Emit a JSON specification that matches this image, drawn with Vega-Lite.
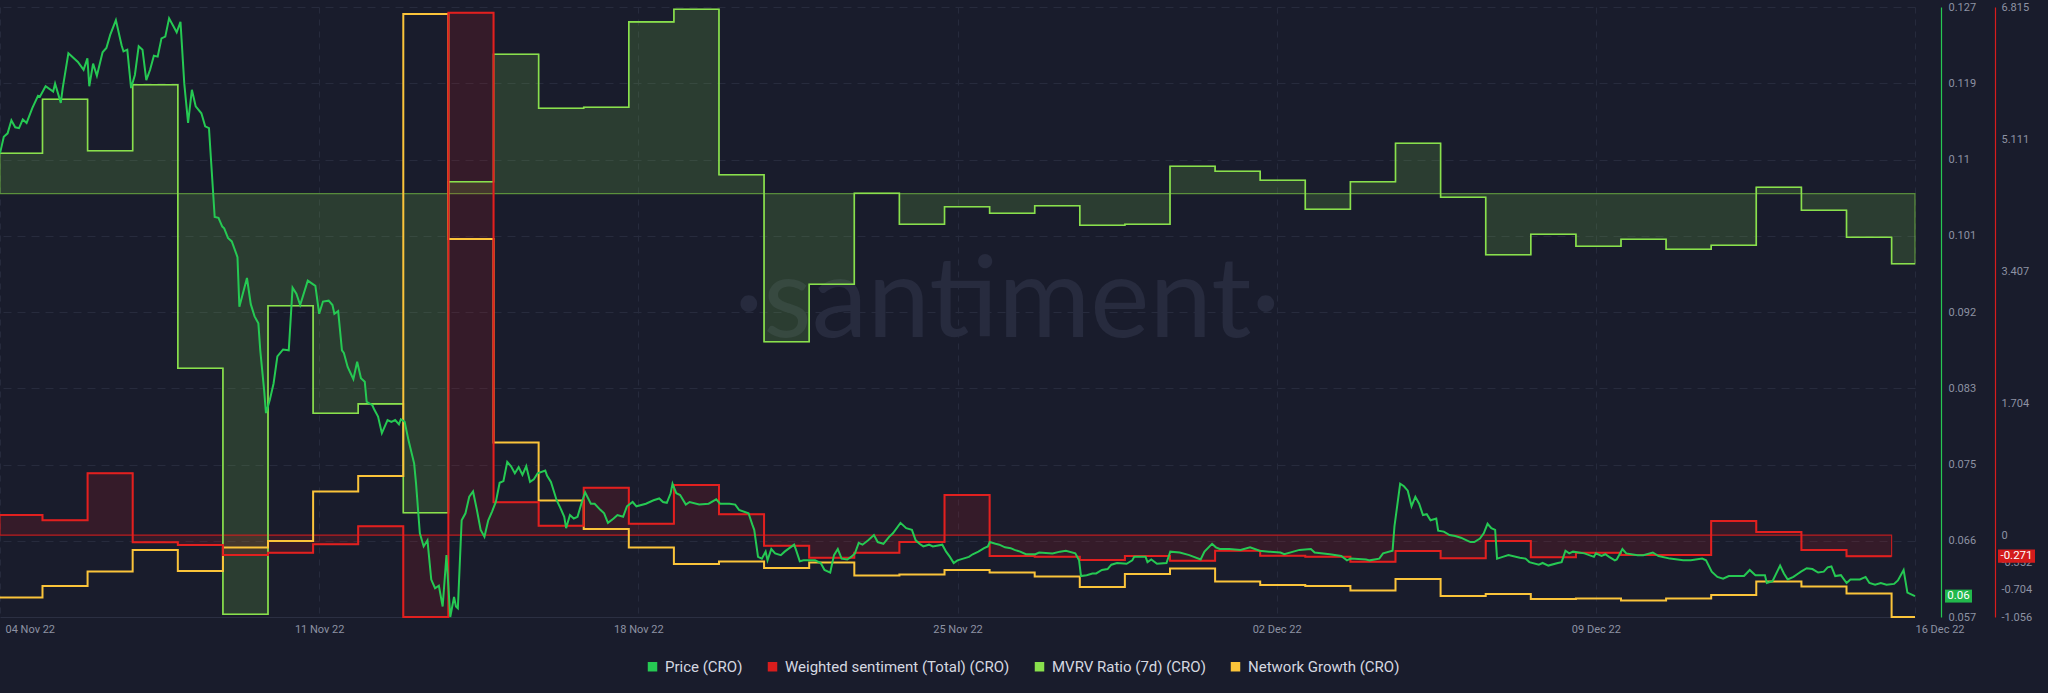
{
"$schema": "https://vega.github.io/schema/vega-lite/v6.json",
"width": 1915,
"height": 610,
"autosize": {"type": "none"},
"padding": {"left": 0, "top": 7, "right": 133, "bottom": 76},
"background": "#191c2c",
"config": {
  "view": {"stroke": null},
  "font": "Roboto",
  "locale": {"number": {"decimal": ".", "thousands": ",", "grouping": [3], "currency": ["$", ""], "minus": "-"}}
},
"datasets": {
  "price": [
{"t":"2022-11-04T00:00","price":0.1102},{"t":"2022-11-04T02:00","price":0.1121},{"t":"2022-11-04T04:00","price":0.1125},{"t":"2022-11-04T06:00","price":0.1140},{"t":"2022-11-04T08:00","price":0.1132},{"t":"2022-11-04T10:00","price":0.1131},{"t":"2022-11-04T12:00","price":0.1141},{"t":"2022-11-04T14:00","price":0.1137},{"t":"2022-11-04T17:00","price":0.1154},{"t":"2022-11-04T20:00","price":0.1168},{"t":"2022-11-04T21:00","price":0.1167},
{"t":"2022-11-05T00:00","price":0.1179},{"t":"2022-11-05T04:00","price":0.1173},{"t":"2022-11-05T05:00","price":0.1182},{"t":"2022-11-05T08:00","price":0.1160},{"t":"2022-11-05T09:00","price":0.1177},{"t":"2022-11-05T12:00","price":0.1217},{"t":"2022-11-05T17:00","price":0.1207},{"t":"2022-11-05T20:00","price":0.1198},{"t":"2022-11-05T22:00","price":0.1211},{"t":"2022-11-05T23:00","price":0.1179},
{"t":"2022-11-06T01:00","price":0.1205},{"t":"2022-11-06T03:00","price":0.1191},{"t":"2022-11-06T06:00","price":0.1218},{"t":"2022-11-06T08:00","price":0.1223},{"t":"2022-11-06T10:00","price":0.1238},{"t":"2022-11-06T13:00","price":0.1255},{"t":"2022-11-06T16:00","price":0.1226},{"t":"2022-11-06T17:00","price":0.1219},{"t":"2022-11-06T19:00","price":0.1221},{"t":"2022-11-06T21:00","price":0.1177},{"t":"2022-11-06T23:00","price":0.1192},
{"t":"2022-11-07T01:00","price":0.1225},{"t":"2022-11-07T03:00","price":0.1221},{"t":"2022-11-07T05:00","price":0.1186},{"t":"2022-11-07T07:00","price":0.1198},{"t":"2022-11-07T09:00","price":0.1214},{"t":"2022-11-07T11:00","price":0.1213},{"t":"2022-11-07T13:00","price":0.1234},{"t":"2022-11-07T15:00","price":0.1236},{"t":"2022-11-07T17:00","price":0.1257},{"t":"2022-11-07T19:00","price":0.1249},{"t":"2022-11-07T21:00","price":0.1241},{"t":"2022-11-07T23:00","price":0.1253},
{"t":"2022-11-08T01:00","price":0.1182},{"t":"2022-11-08T03:00","price":0.1137},{"t":"2022-11-08T05:00","price":0.1175},{"t":"2022-11-08T07:00","price":0.1156},{"t":"2022-11-08T10:00","price":0.1148},{"t":"2022-11-08T12:00","price":0.1133},{"t":"2022-11-08T14:00","price":0.1131},{"t":"2022-11-08T17:00","price":0.1029},{"t":"2022-11-08T19:00","price":0.1028},{"t":"2022-11-08T21:00","price":0.1018},{"t":"2022-11-08T22:00","price":0.1016},
{"t":"2022-11-09T00:00","price":0.1005},{"t":"2022-11-09T02:00","price":0.1001},{"t":"2022-11-09T05:00","price":0.0983},{"t":"2022-11-09T06:00","price":0.0926},{"t":"2022-11-09T10:00","price":0.0959},{"t":"2022-11-09T12:00","price":0.0929},{"t":"2022-11-09T14:00","price":0.0915},{"t":"2022-11-09T16:00","price":0.0907},{"t":"2022-11-09T17:00","price":0.0876},{"t":"2022-11-09T19:00","price":0.0831},{"t":"2022-11-09T20:00","price":0.0804},{"t":"2022-11-09T22:00","price":0.0819},
{"t":"2022-11-10T00:00","price":0.0838},{"t":"2022-11-10T02:00","price":0.0869},{"t":"2022-11-10T05:00","price":0.0877},{"t":"2022-11-10T08:00","price":0.0876},{"t":"2022-11-10T10:00","price":0.0948},{"t":"2022-11-10T12:00","price":0.0941},{"t":"2022-11-10T14:00","price":0.0928},{"t":"2022-11-10T18:00","price":0.0956},{"t":"2022-11-10T22:00","price":0.0950},
{"t":"2022-11-11T00:00","price":0.0918},{"t":"2022-11-11T02:00","price":0.0932},{"t":"2022-11-11T05:00","price":0.0933},{"t":"2022-11-11T07:00","price":0.0928},{"t":"2022-11-11T08:00","price":0.0918},{"t":"2022-11-11T10:00","price":0.0921},{"t":"2022-11-11T12:00","price":0.0876},{"t":"2022-11-11T13:00","price":0.0873},{"t":"2022-11-11T15:00","price":0.0857},{"t":"2022-11-11T18:00","price":0.0843},{"t":"2022-11-11T20:00","price":0.0863},{"t":"2022-11-11T22:00","price":0.0844},
{"t":"2022-11-12T00:00","price":0.0840},{"t":"2022-11-12T01:00","price":0.0817},{"t":"2022-11-12T04:00","price":0.0813},{"t":"2022-11-12T05:00","price":0.0808},{"t":"2022-11-12T07:00","price":0.0800},{"t":"2022-11-12T09:00","price":0.0781},{"t":"2022-11-12T12:00","price":0.0796},{"t":"2022-11-12T14:00","price":0.0794},{"t":"2022-11-12T16:00","price":0.0796},{"t":"2022-11-12T18:00","price":0.0791},{"t":"2022-11-12T19:00","price":0.0797},{"t":"2022-11-12T21:00","price":0.0794},{"t":"2022-11-12T23:00","price":0.0773},
{"t":"2022-11-13T02:00","price":0.0746},{"t":"2022-11-13T03:00","price":0.0723},{"t":"2022-11-13T05:00","price":0.0666},{"t":"2022-11-13T07:00","price":0.0651},{"t":"2022-11-13T09:00","price":0.0658},{"t":"2022-11-13T11:00","price":0.0613},{"t":"2022-11-13T13:00","price":0.0603},{"t":"2022-11-13T15:00","price":0.0606},{"t":"2022-11-13T17:00","price":0.0582},{"t":"2022-11-13T19:00","price":0.0641},{"t":"2022-11-13T21:00","price":0.0570},{"t":"2022-11-13T23:00","price":0.0593},
{"t":"2022-11-14T00:00","price":0.0582},{"t":"2022-11-14T01:00","price":0.0580},{"t":"2022-11-14T03:00","price":0.0681},{"t":"2022-11-14T05:00","price":0.0689},{"t":"2022-11-14T07:00","price":0.0708},{"t":"2022-11-14T09:00","price":0.0714},{"t":"2022-11-14T11:00","price":0.0693},{"t":"2022-11-14T13:00","price":0.0670},{"t":"2022-11-14T15:00","price":0.0662},{"t":"2022-11-14T17:00","price":0.0681},{"t":"2022-11-14T19:00","price":0.0691},{"t":"2022-11-14T21:00","price":0.0702},{"t":"2022-11-14T23:00","price":0.0724},
{"t":"2022-11-15T01:00","price":0.0726},{"t":"2022-11-15T03:00","price":0.0748},{"t":"2022-11-15T05:00","price":0.0743},{"t":"2022-11-15T07:00","price":0.0735},{"t":"2022-11-15T09:00","price":0.0742},{"t":"2022-11-15T11:00","price":0.0733},{"t":"2022-11-15T13:00","price":0.0743},{"t":"2022-11-15T15:00","price":0.0725},{"t":"2022-11-15T17:00","price":0.0728},{"t":"2022-11-15T19:00","price":0.0735},{"t":"2022-11-15T23:00","price":0.0738},
{"t":"2022-11-16T00:00","price":0.0732},{"t":"2022-11-16T02:00","price":0.0725},{"t":"2022-11-16T05:00","price":0.0704},{"t":"2022-11-16T07:00","price":0.0695},{"t":"2022-11-16T09:00","price":0.0685},{"t":"2022-11-16T10:00","price":0.0672},{"t":"2022-11-16T12:00","price":0.0687},{"t":"2022-11-16T14:00","price":0.0683},{"t":"2022-11-16T16:00","price":0.0685},{"t":"2022-11-16T18:00","price":0.0700},{"t":"2022-11-16T20:00","price":0.0713},{"t":"2022-11-16T23:00","price":0.0700},
{"t":"2022-11-17T01:00","price":0.0700},{"t":"2022-11-17T04:00","price":0.0693},{"t":"2022-11-17T06:00","price":0.0689},{"t":"2022-11-17T08:00","price":0.0678},{"t":"2022-11-17T11:00","price":0.0683},{"t":"2022-11-17T13:00","price":0.0687},{"t":"2022-11-17T16:00","price":0.0685},{"t":"2022-11-17T18:00","price":0.0697},{"t":"2022-11-17T21:00","price":0.0702},{"t":"2022-11-17T23:00","price":0.0697},
{"t":"2022-11-18T04:00","price":0.0700},{"t":"2022-11-18T08:00","price":0.0704},{"t":"2022-11-18T11:00","price":0.0706},{"t":"2022-11-18T13:00","price":0.0702},{"t":"2022-11-18T15:00","price":0.0701},{"t":"2022-11-18T17:00","price":0.0712},{"t":"2022-11-18T18:00","price":0.0723},{"t":"2022-11-18T20:00","price":0.0712},{"t":"2022-11-18T22:00","price":0.0710},
{"t":"2022-11-19T01:00","price":0.0699},{"t":"2022-11-19T03:00","price":0.0702},{"t":"2022-11-19T08:00","price":0.0699},{"t":"2022-11-19T13:00","price":0.0700},{"t":"2022-11-19T17:00","price":0.0705},{"t":"2022-11-19T19:00","price":0.0700},
{"t":"2022-11-20T00:00","price":0.0700},{"t":"2022-11-20T03:00","price":0.0699},{"t":"2022-11-20T05:00","price":0.0693},{"t":"2022-11-20T10:00","price":0.0689},{"t":"2022-11-20T12:00","price":0.0676},{"t":"2022-11-20T13:00","price":0.0670},{"t":"2022-11-20T15:00","price":0.0639},{"t":"2022-11-20T17:00","price":0.0637},{"t":"2022-11-20T19:00","price":0.0645},{"t":"2022-11-20T20:00","price":0.0635},{"t":"2022-11-20T22:00","price":0.0648},
{"t":"2022-11-21T00:00","price":0.0643},{"t":"2022-11-21T03:00","price":0.0641},{"t":"2022-11-21T05:00","price":0.0645},{"t":"2022-11-21T10:00","price":0.0653},{"t":"2022-11-21T11:00","price":0.0647},{"t":"2022-11-21T13:00","price":0.0634},{"t":"2022-11-21T15:00","price":0.0635},{"t":"2022-11-21T21:00","price":0.0635},
{"t":"2022-11-22T00:00","price":0.0632},{"t":"2022-11-22T02:00","price":0.0624},{"t":"2022-11-22T05:00","price":0.0621},{"t":"2022-11-22T07:00","price":0.0641},{"t":"2022-11-22T09:00","price":0.0648},{"t":"2022-11-22T11:00","price":0.0637},{"t":"2022-11-22T14:00","price":0.0636},{"t":"2022-11-22T16:00","price":0.0639},{"t":"2022-11-22T18:00","price":0.0643},{"t":"2022-11-22T20:00","price":0.0655},{"t":"2022-11-22T22:00","price":0.0653},
{"t":"2022-11-23T01:00","price":0.0658},{"t":"2022-11-23T04:00","price":0.0664},{"t":"2022-11-23T06:00","price":0.0656},{"t":"2022-11-23T09:00","price":0.0654},{"t":"2022-11-23T12:00","price":0.0662},{"t":"2022-11-23T14:00","price":0.0666},{"t":"2022-11-23T18:00","price":0.0678},{"t":"2022-11-23T21:00","price":0.0672},
{"t":"2022-11-24T00:00","price":0.0670},{"t":"2022-11-24T02:00","price":0.0658},{"t":"2022-11-24T04:00","price":0.0654},{"t":"2022-11-24T06:00","price":0.0651},{"t":"2022-11-24T09:00","price":0.0653},{"t":"2022-11-24T11:00","price":0.0651},{"t":"2022-11-24T16:00","price":0.0653},{"t":"2022-11-24T18:00","price":0.0645},{"t":"2022-11-24T20:00","price":0.0639},{"t":"2022-11-24T22:00","price":0.0632},
{"t":"2022-11-25T00:00","price":0.0635},{"t":"2022-11-25T03:00","price":0.0637},{"t":"2022-11-25T06:00","price":0.0639},{"t":"2022-11-25T08:00","price":0.0642},{"t":"2022-11-25T11:00","price":0.0645},{"t":"2022-11-25T14:00","price":0.0649},{"t":"2022-11-25T16:00","price":0.0651},{"t":"2022-11-25T17:00","price":0.0656},{"t":"2022-11-25T20:00","price":0.0654},{"t":"2022-11-25T22:00","price":0.0653},
{"t":"2022-11-26T01:00","price":0.0650},{"t":"2022-11-26T04:00","price":0.0649},{"t":"2022-11-26T06:00","price":0.0647},{"t":"2022-11-26T09:00","price":0.0645},{"t":"2022-11-26T12:00","price":0.0642},{"t":"2022-11-26T17:00","price":0.0642},{"t":"2022-11-26T19:00","price":0.0644},
{"t":"2022-11-27T02:00","price":0.0643},{"t":"2022-11-27T06:00","price":0.0645},{"t":"2022-11-27T09:00","price":0.0646},{"t":"2022-11-27T14:00","price":0.0643},{"t":"2022-11-27T16:00","price":0.0635},{"t":"2022-11-27T17:00","price":0.0617},{"t":"2022-11-27T20:00","price":0.0618},{"t":"2022-11-27T23:00","price":0.0620},
{"t":"2022-11-28T01:00","price":0.0620},{"t":"2022-11-28T04:00","price":0.0624},{"t":"2022-11-28T07:00","price":0.0625},{"t":"2022-11-28T09:00","price":0.0630},{"t":"2022-11-28T12:00","price":0.0632},{"t":"2022-11-28T17:00","price":0.0631},{"t":"2022-11-28T20:00","price":0.0635},{"t":"2022-11-28T21:00","price":0.0639},
{"t":"2022-11-29T03:00","price":0.0639},{"t":"2022-11-29T04:00","price":0.0633},{"t":"2022-11-29T06:00","price":0.0636},{"t":"2022-11-29T09:00","price":0.0631},{"t":"2022-11-29T14:00","price":0.0632},{"t":"2022-11-29T16:00","price":0.0645},{"t":"2022-11-29T21:00","price":0.0644},
{"t":"2022-11-30T02:00","price":0.0641},{"t":"2022-11-30T08:00","price":0.0636},{"t":"2022-11-30T10:00","price":0.0645},{"t":"2022-11-30T14:00","price":0.0654},{"t":"2022-11-30T16:00","price":0.0650},{"t":"2022-11-30T18:00","price":0.0648},{"t":"2022-11-30T23:00","price":0.0648},
{"t":"2022-12-01T05:00","price":0.0647},{"t":"2022-12-01T10:00","price":0.0650},{"t":"2022-12-01T15:00","price":0.0646},{"t":"2022-12-01T20:00","price":0.0645},
{"t":"2022-12-02T02:00","price":0.0644},{"t":"2022-12-02T04:00","price":0.0642},{"t":"2022-12-02T12:00","price":0.0647},{"t":"2022-12-02T18:00","price":0.0648},{"t":"2022-12-02T20:00","price":0.0644},
{"t":"2022-12-03T04:00","price":0.0642},{"t":"2022-12-03T10:00","price":0.0640},{"t":"2022-12-03T13:00","price":0.0635},{"t":"2022-12-03T15:00","price":0.0637},{"t":"2022-12-03T23:00","price":0.0636},
{"t":"2022-12-04T01:00","price":0.0635},{"t":"2022-12-04T06:00","price":0.0637},{"t":"2022-12-04T08:00","price":0.0643},{"t":"2022-12-04T13:00","price":0.0646},{"t":"2022-12-04T14:00","price":0.0674},{"t":"2022-12-04T17:00","price":0.0723},{"t":"2022-12-04T19:00","price":0.0720},{"t":"2022-12-04T21:00","price":0.0715},{"t":"2022-12-04T23:00","price":0.0697},
{"t":"2022-12-05T01:00","price":0.0708},{"t":"2022-12-05T03:00","price":0.0700},{"t":"2022-12-05T05:00","price":0.0687},{"t":"2022-12-05T07:00","price":0.0688},{"t":"2022-12-05T09:00","price":0.0681},{"t":"2022-12-05T12:00","price":0.0683},{"t":"2022-12-05T13:00","price":0.0669},{"t":"2022-12-05T16:00","price":0.0668},{"t":"2022-12-05T19:00","price":0.0664},{"t":"2022-12-05T22:00","price":0.0663},
{"t":"2022-12-06T01:00","price":0.0661},{"t":"2022-12-06T04:00","price":0.0658},{"t":"2022-12-06T06:00","price":0.0656},{"t":"2022-12-06T08:00","price":0.0656},{"t":"2022-12-06T11:00","price":0.0660},{"t":"2022-12-06T13:00","price":0.0666},{"t":"2022-12-06T15:00","price":0.0677},{"t":"2022-12-06T17:00","price":0.0672},{"t":"2022-12-06T19:00","price":0.0670},{"t":"2022-12-06T20:00","price":0.0637},{"t":"2022-12-06T23:00","price":0.0639},
{"t":"2022-12-07T02:00","price":0.0641},{"t":"2022-12-07T08:00","price":0.0638},{"t":"2022-12-07T11:00","price":0.0637},{"t":"2022-12-07T13:00","price":0.0633},{"t":"2022-12-07T18:00","price":0.0630},{"t":"2022-12-07T20:00","price":0.0632},{"t":"2022-12-07T23:00","price":0.0629},
{"t":"2022-12-08T04:00","price":0.0632},{"t":"2022-12-08T06:00","price":0.0633},{"t":"2022-12-08T08:00","price":0.0646},{"t":"2022-12-08T10:00","price":0.0643},{"t":"2022-12-08T12:00","price":0.0645},{"t":"2022-12-08T18:00","price":0.0643},{"t":"2022-12-08T23:00","price":0.0639},
{"t":"2022-12-09T00:00","price":0.0643},{"t":"2022-12-09T03:00","price":0.0640},{"t":"2022-12-09T05:00","price":0.0642},{"t":"2022-12-09T07:00","price":0.0639},{"t":"2022-12-09T10:00","price":0.0635},{"t":"2022-12-09T11:00","price":0.0636},{"t":"2022-12-09T14:00","price":0.0648},{"t":"2022-12-09T16:00","price":0.0643},{"t":"2022-12-09T22:00","price":0.0641},
{"t":"2022-12-10T01:00","price":0.0641},{"t":"2022-12-10T06:00","price":0.0644},{"t":"2022-12-10T09:00","price":0.0640},{"t":"2022-12-10T15:00","price":0.0637},{"t":"2022-12-10T22:00","price":0.0635},
{"t":"2022-12-11T02:00","price":0.0635},{"t":"2022-12-11T08:00","price":0.0637},{"t":"2022-12-11T10:00","price":0.0635},{"t":"2022-12-11T13:00","price":0.0622},{"t":"2022-12-11T16:00","price":0.0616},{"t":"2022-12-11T19:00","price":0.0614},{"t":"2022-12-11T22:00","price":0.0617},
{"t":"2022-12-12T03:00","price":0.0617},{"t":"2022-12-12T06:00","price":0.0617},{"t":"2022-12-12T09:00","price":0.0624},{"t":"2022-12-12T12:00","price":0.0618},{"t":"2022-12-12T17:00","price":0.0618},{"t":"2022-12-12T18:00","price":0.0609},{"t":"2022-12-12T21:00","price":0.0611},
{"t":"2022-12-13T01:00","price":0.0629},{"t":"2022-12-13T03:00","price":0.0620},{"t":"2022-12-13T05:00","price":0.0613},{"t":"2022-12-13T08:00","price":0.0616},{"t":"2022-12-13T10:00","price":0.0619},{"t":"2022-12-13T12:00","price":0.0622},{"t":"2022-12-13T15:00","price":0.0626},{"t":"2022-12-13T18:00","price":0.0625},{"t":"2022-12-13T21:00","price":0.0621},
{"t":"2022-12-14T00:00","price":0.0622},{"t":"2022-12-14T02:00","price":0.0627},{"t":"2022-12-14T04:00","price":0.0628},{"t":"2022-12-14T06:00","price":0.0617},{"t":"2022-12-14T09:00","price":0.0618},{"t":"2022-12-14T12:00","price":0.0609},{"t":"2022-12-14T14:00","price":0.0613},{"t":"2022-12-14T19:00","price":0.0613},{"t":"2022-12-14T22:00","price":0.0616},
{"t":"2022-12-15T00:00","price":0.0609},{"t":"2022-12-15T03:00","price":0.0607},{"t":"2022-12-15T06:00","price":0.0609},{"t":"2022-12-15T09:00","price":0.0607},{"t":"2022-12-15T13:00","price":0.0608},{"t":"2022-12-15T15:00","price":0.0612},{"t":"2022-12-15T18:00","price":0.0624},{"t":"2022-12-15T20:00","price":0.0598},{"t":"2022-12-15T22:00","price":0.0596},
{"t":"2022-12-16T00:00","price":0.0594}
  ],
  "daily": [
{"t":"2022-11-04T00:00","mvrv":1.0202,"sentiment":0.26,"network":39},
{"t":"2022-11-04T22:22","mvrv":1.0472,"sentiment":0.192,"network":62},
{"t":"2022-11-05T22:06","mvrv":1.0215,"sentiment":0.798,"network":91},
{"t":"2022-11-06T21:50","mvrv":1.0545,"sentiment":-0.092,"network":134},
{"t":"2022-11-07T21:36","mvrv":0.9127,"sentiment":-0.127,"network":92},
{"t":"2022-11-08T21:20","mvrv":0.7897,"sentiment":-0.256,"network":139},
{"t":"2022-11-09T21:04","mvrv":0.944,"sentiment":-0.226,"network":152},
{"t":"2022-11-10T20:49","mvrv":0.8902,"sentiment":-0.118,"network":251},
{"t":"2022-11-11T20:33","mvrv":0.8949,"sentiment":0.114,"network":282},
{"t":"2022-11-12T20:17","mvrv":0.8405,"sentiment":-1.056,"network":1206},
{"t":"2022-11-13T20:01","mvrv":1.006,"sentiment":6.741,"network":756},
{"t":"2022-11-14T19:47","mvrv":1.0697,"sentiment":0.424,"network":349},
{"t":"2022-11-15T19:31","mvrv":1.0427,"sentiment":0.122,"network":233},
{"t":"2022-11-16T19:15","mvrv":1.0432,"sentiment":0.612,"network":176},
{"t":"2022-11-17T18:59","mvrv":1.0859,"sentiment":0.148,"network":139},
{"t":"2022-11-18T18:43","mvrv":1.0922,"sentiment":0.647,"network":106},
{"t":"2022-11-19T18:27","mvrv":1.0095,"sentiment":0.269,"network":111},
{"t":"2022-11-20T18:11","mvrv":0.926,"sentiment":-0.136,"network":98},
{"t":"2022-11-21T17:56","mvrv":0.9547,"sentiment":-0.291,"network":109},
{"t":"2022-11-22T17:41","mvrv":1.0002,"sentiment":-0.226,"network":83},
{"t":"2022-11-23T17:25","mvrv":0.9847,"sentiment":-0.088,"network":85},
{"t":"2022-11-24T17:10","mvrv":0.9935,"sentiment":0.518,"network":94},
{"t":"2022-11-25T16:54","mvrv":0.9902,"sentiment":-0.269,"network":89},
{"t":"2022-11-26T16:38","mvrv":0.994,"sentiment":-0.278,"network":81},
{"t":"2022-11-27T16:22","mvrv":0.9842,"sentiment":-0.321,"network":60},
{"t":"2022-11-28T16:06","mvrv":0.9847,"sentiment":-0.269,"network":86},
{"t":"2022-11-29T15:52","mvrv":1.0137,"sentiment":-0.33,"network":97},
{"t":"2022-11-30T15:36","mvrv":1.0112,"sentiment":-0.201,"network":71},
{"t":"2022-12-01T15:20","mvrv":1.0067,"sentiment":-0.265,"network":64},
{"t":"2022-12-02T15:04","mvrv":0.9922,"sentiment":-0.278,"network":62},
{"t":"2022-12-03T14:49","mvrv":1.006,"sentiment":-0.343,"network":53},
{"t":"2022-12-04T14:33","mvrv":1.0252,"sentiment":-0.204,"network":76},
{"t":"2022-12-05T14:17","mvrv":0.9982,"sentiment":-0.299,"network":42},
{"t":"2022-12-06T14:02","mvrv":0.9695,"sentiment":-0.075,"network":46},
{"t":"2022-12-07T13:46","mvrv":0.9797,"sentiment":-0.286,"network":36},
{"t":"2022-12-08T13:31","mvrv":0.9737,"sentiment":-0.226,"network":37},
{"t":"2022-12-09T13:15","mvrv":0.9772,"sentiment":-0.256,"network":33},
{"t":"2022-12-10T12:59","mvrv":0.9722,"sentiment":-0.256,"network":37},
{"t":"2022-12-11T12:43","mvrv":0.9742,"sentiment":0.183,"network":44},
{"t":"2022-12-12T12:27","mvrv":1.0032,"sentiment":0.041,"network":71},
{"t":"2022-12-13T12:13","mvrv":0.9917,"sentiment":-0.192,"network":61},
{"t":"2022-12-14T11:57","mvrv":0.9782,"sentiment":-0.271,"network":47},
{"t":"2022-12-15T11:41","mvrv":0.965,"sentiment":-0.271,"network":0},
{"t":"2022-12-16T00:00","mvrv":0.965,"sentiment":null,"network":0}
  ],
  "latest": [{"t":"2022-12-16T00:00","price":0.0594,"sentiment":-0.271}],
  "series": [{"series":"Price (CRO)"},{"series":"Weighted sentiment (Total) (CRO)"},{"series":"MVRV Ratio (7d) (CRO)"},{"series":"Network Growth (CRO)"}],
  "brand": [{"brand":"·santiment·"}]
},
"encoding": {
  "x": {
    "field": "t", "type": "temporal",
    "scale": {"domain": [{"year": 2022, "month": 11, "date": 4}, {"year": 2022, "month": 12, "date": 16}]},
    "axis": {
      "title": null,
      "values": [{"year": 2022, "month": 11, "date": 4}, {"year": 2022, "month": 11, "date": 11}, {"year": 2022, "month": 11, "date": 18}, {"year": 2022, "month": 11, "date": 25}, {"year": 2022, "month": 12, "date": 2}, {"year": 2022, "month": 12, "date": 9}, {"year": 2022, "month": 12, "date": 16}],
      "format": "%d %b %y",
      "labelAlign": {"condition": {"test": "datum.index == 0 || datum.index == 1", "value": "left"}, "value": "center"},
      "labelOffset": {"condition": {"test": "datum.index == 0", "value": 5}, "value": 0},
      "labelFlush": false, "labelOverlap": false,
      "ticks": false, "labelPadding": 6,
      "labelFont": "Roboto", "labelFontSize": 11, "labelColor": "#8d92a3",
      "domainColor": "#2b2f42", "domainWidth": 1,
      "grid": true, "gridColor": "#262a3c", "gridDash": [6, 6]
    }
  }
},
"layer": [
  {
    "data": {"name": "brand"},
    "mark": {"type": "text", "font": "Lato", "fontSize": 112, "color": "#272b3e", "align": "center", "baseline": "alphabetic"},
    "encoding": {
      "x": {"value": {"expr": "width * 0.526"}},
      "y": {"value": {"expr": "height * 0.541"}},
      "text": {"field": "brand", "type": "nominal"}
    }
  },
  {
    "data": {"name": "daily"},
    "mark": {"type": "area", "interpolate": "step-after", "fill": "#89e04d", "fillOpacity": 0.17, "stroke": "#7fd046", "strokeOpacity": 0.6, "strokeWidth": 1.2},
    "encoding": {
      "y": {"field": "mvrv", "type": "quantitative", "scale": {"domain": [0.78835, 1.09335], "nice": false}, "axis": null},
      "y2": {"datum": 1}
    }
  },
  {
    "data": {"name": "daily"},
    "mark": {"type": "area", "interpolate": "step-after", "fill": "#d81d1d", "fillOpacity": 0.15, "stroke": "#d81d1d", "strokeOpacity": 0.85, "strokeWidth": 1.2},
    "encoding": {
      "y": {"field": "sentiment", "type": "quantitative", "scale": {"domain": [-1.056, 6.815], "nice": false}, "axis": null},
      "y2": {"datum": 0}
    }
  },
  {
    "data": {"name": "daily"},
    "mark": {"type": "line", "interpolate": "step-after", "stroke": "#89e04d", "strokeWidth": 1.6},
    "encoding": {
      "y": {"field": "mvrv", "type": "quantitative", "scale": {"domain": [0.78835, 1.09335], "nice": false}, "axis": null}
    }
  },
  {
    "data": {"name": "daily"},
    "mark": {"type": "line", "interpolate": "step-after", "stroke": "#fbc43a", "strokeWidth": 2},
    "encoding": {
      "y": {"field": "network", "type": "quantitative", "scale": {"domain": [0, 1220], "nice": false}, "axis": null}
    }
  },
  {
    "data": {"name": "daily"},
    "mark": {"type": "line", "interpolate": "step-after", "stroke": "#e2201f", "strokeWidth": 2},
    "encoding": {
      "y": {
        "field": "sentiment", "type": "quantitative",
        "scale": {"domain": [-1.056, 6.815], "nice": false},
        "axis": {
          "orient": "right", "offset": 80, "title": null,
          "values": [-1.056, -0.704, -0.352, 0, 1.704, 3.407, 5.111, 6.815],
          "format": ".3~f",
          "ticks": false, "labelPadding": 6,
          "labelFont": "Roboto", "labelFontSize": 11, "labelColor": "#8d92a3",
          "domainColor": "#d81d1d", "domainWidth": 1.2,
          "grid": false, "labelFlush": false, "labelOverlap": false
        }
      }
    }
  },
  {
    "data": {"name": "price"},
    "mark": {"type": "line", "stroke": "#26c953", "strokeWidth": 2},
    "encoding": {
      "y": {
        "field": "price", "type": "quantitative",
        "scale": {"domain": [0.057, 0.127], "nice": false},
        "axis": {
          "orient": "right", "offset": 26, "title": null,
          "values": [0.057, 0.06575, 0.0745, 0.08325, 0.092, 0.10075, 0.1095, 0.11825, 0.127],
          "labelExpr": "['0.057','0.066','0.075','0.083','0.092','0.101','0.11','0.119','0.127'][round(datum.index*8)]",
          "ticks": false, "labelPadding": 7,
          "labelFont": "Roboto", "labelFontSize": 11, "labelColor": "#8d92a3",
          "domainColor": "#26c953", "domainWidth": 1.2,
          "grid": true, "gridColor": "#272b3d", "gridDash": [8, 6],
          "labelFlush": false, "labelOverlap": false
        }
      }
    }
  },
  {
    "data": {"name": "series"},
    "mark": {"type": "point", "shape": "square", "filled": true, "opacity": 0, "size": 10},
    "encoding": {
      "x": {"datum": {"year": 2022, "month": 11, "date": 4}, "type": "temporal"},
      "color": {
        "field": "series", "type": "nominal",
        "scale": {"domain": ["Price (CRO)", "Weighted sentiment (Total) (CRO)", "MVRV Ratio (7d) (CRO)", "Network Growth (CRO)"], "range": ["#26c953", "#d81d1d", "#89e04d", "#fbc43a"]},
        "legend": {
          "title": null, "orient": "none", "legendX": 645, "legendY": 652,
          "direction": "horizontal", "columns": 4, "columnPadding": 22, "padding": 0,
          "symbolType": "square", "symbolSize": 90, "symbolStrokeWidth": 0, "symbolOpacity": 1,
          "labelFont": "Roboto", "labelFontSize": 15, "labelColor": "#d5d8e0", "labelOffset": 5, "labelLimit": 400
        }
      }
    }
  },
  {
    "data": {"name": "latest"},
    "mark": {"type": "point", "shape": "M-1,-0.48L1,-0.48L1,0.48L-1,0.48Z", "size": 729, "filled": true, "color": "#22b84c", "opacity": 1, "strokeWidth": 0, "xOffset": 43.5},
    "encoding": {
      "y": {"field": "price", "type": "quantitative", "scale": {"domain": [0.057, 0.127], "nice": false}, "axis": null}
    }
  },
  {
    "data": {"name": "latest"},
    "mark": {"type": "text", "font": "Roboto", "fontSize": 11.5, "color": "#ffffff", "align": "center", "baseline": "middle", "dx": 43.5},
    "encoding": {
      "y": {"field": "price", "type": "quantitative", "scale": {"domain": [0.057, 0.127], "nice": false}, "axis": null},
      "text": {"field": "price", "type": "quantitative", "format": ".2f"}
    }
  },
  {
    "data": {"name": "latest"},
    "mark": {"type": "point", "shape": "M-1,-0.36L1,-0.36L1,0.36L-1,0.36Z", "size": 1369, "filled": true, "color": "#d41c1c", "opacity": 1, "strokeWidth": 0, "xOffset": 101.5},
    "encoding": {
      "y": {"field": "sentiment", "type": "quantitative", "scale": {"domain": [-1.056, 6.815], "nice": false}, "axis": null}
    }
  },
  {
    "data": {"name": "latest"},
    "mark": {"type": "text", "font": "Roboto", "fontSize": 11.5, "color": "#ffffff", "align": "center", "baseline": "middle", "dx": 101.5},
    "encoding": {
      "y": {"field": "sentiment", "type": "quantitative", "scale": {"domain": [-1.056, 6.815], "nice": false}, "axis": null},
      "text": {"field": "sentiment", "type": "quantitative", "format": ".3f"}
    }
  }
],
"resolve": {"scale": {"y": "independent"}, "axis": {"y": "independent"}}
}
